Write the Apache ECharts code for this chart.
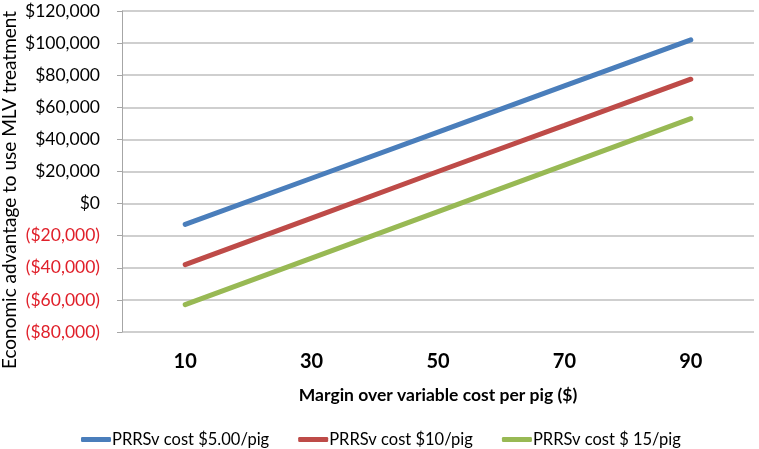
<!DOCTYPE html>
<html><head><meta charset="utf-8">
<script src="https://cdn.jsdelivr.net/npm/echarts@6/dist/echarts.min.js"></script>
<style>html,body{margin:0;padding:0;background:#fff}#c{width:759px;height:449px}</style>
</head><body><div id="c"></div>
<script>
var categories = ['10', '30', '50', '70', '90'];
var seriesNames = ['PRRSv cost $5.00/pig', 'PRRSv cost $10/pig', 'PRRSv cost $ 15/pig'];
var blueValues = [-13000, 15800, 44500, 73300, 102000];
var redValues = [-38000, -9000, 20000, 48700, 77500];
var greenValues = [-63000, -34000, -5000, 24000, 53000];
var yTicks = { min: -80000, max: 120000, interval: 20000 };
var colors = ['#4a7ebb', '#be4b48', '#98b954'];
var FONT = 'Lato';

function fmt(v) {
  var s = Math.abs(v).toString().replace(/\B(?=(\d{3})+(?!\d))/g, ',');
  return v < 0 ? '($' + s + ')' : '$' + s;
}
var chart = echarts.init(document.getElementById('c'), null, {renderer: 'canvas'});
function mk(i, data) {
  return {
    name: seriesNames[i], type: 'line', data: data, symbol: 'none',
    lineStyle: {width: 5, color: colors[i], cap: 'round'},
    itemStyle: {color: colors[i]}, animation: false
  };
}
chart.setOption({
  animation: false,
  textStyle: {fontFamily: FONT},
  grid: {left: 122, right: 5, top: 11, bottom: 117, containLabel: false},
  xAxis: {
    type: 'category', data: categories, boundaryGap: true,
    axisLine: {show: false}, axisTick: {show: false},
    axisLabel: {fontSize: 20, fontWeight: 'bold', color: '#000', margin: 20, fontFamily: FONT},
    name: 'Margin over variable cost per pig ($)', nameLocation: 'middle', nameGap: 54,
    nameTextStyle: {fontSize: 17.5, fontWeight: 'bold', color: '#000', fontFamily: FONT}
  },
  yAxis: {
    type: 'value', min: yTicks.min, max: yTicks.max, interval: yTicks.interval,
    axisLine: {show: true, lineStyle: {color: '#a6a6a6', width: 1}},
    axisTick: {show: true, length: 5, lineStyle: {color: '#a6a6a6'}},
    splitLine: {lineStyle: {color: '#bfbfbf', width: 1.5}},
    axisLabel: {
      fontSize: 17.5, margin: 22, fontFamily: FONT,
      formatter: function (v) { return fmt(v); },
      color: function (v) { return Number(v) < 0 ? '#e0202a' : '#000'; }
    }
  },
  legend: {
    left: 76, top: 426, itemWidth: 30, itemHeight: 5, itemGap: 29,
    icon: 'roundRect',
    textStyle: {fontSize: 16.5, color: '#000', fontFamily: FONT, padding: [0, 0, 0, -4]},
    data: seriesNames
  },
  graphic: [{
    type: 'text', x: 10, y: 190, rotation: Math.PI / 2,
    style: {text: 'Economic advantage to use MLV treatment', fontSize: 19, fontFamily: FONT,
      fill: '#000', align: 'center', verticalAlign: 'middle'}
  }],
  series: [mk(0, blueValues), mk(1, redValues), mk(2, greenValues)]
});
</script></body></html>
